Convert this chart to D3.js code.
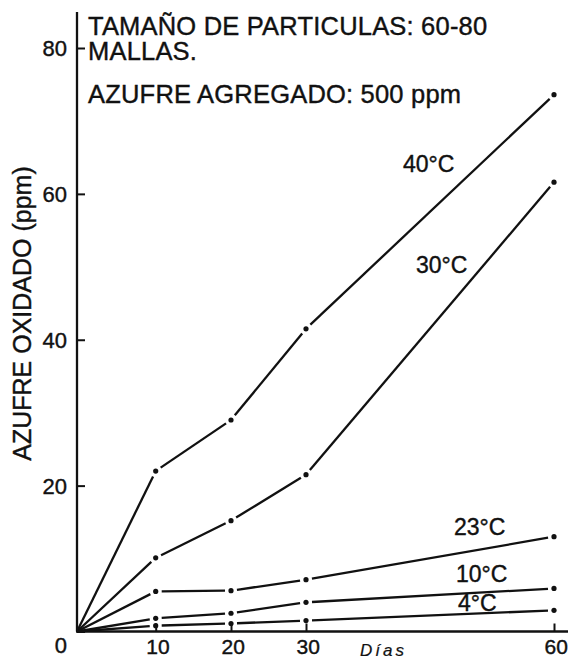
<!DOCTYPE html>
<html>
<head>
<meta charset="utf-8">
<script src="https://cdn.jsdelivr.net/npm/d3@7"></script>
<style>
  html, body { margin: 0; padding: 0; background: #fff; }
  svg { display: block; }
  text { font-family: "Liberation Sans", Arial, Helvetica, sans-serif; fill: #111; stroke: #111; stroke-width: 0.4px; }
</style>
</head>
<body>
<svg id="chart" width="570" height="660"></svg>
<script>
// Days of incubation and oxidised sulphur (ppm) at each temperature
const days = [0, 10, 20, 30, 60];
const dayTicks = [10, 20, 30, 60];
const ppmTicks = [0, 20, 40, 60, 80];
const temps = ["40°C", "30°C", "23°C", "10°C", "4°C"];
const s40 = [0, 22, 29, 41.5, 73.6];
const s30 = [0, 10.1, 15.2, 21.5, 61.6];
const s23 = [0, 5.5, 5.6, 7.1, 13.0];
const s10 = [0, 1.8, 2.5, 4.0, 5.9];
const s4  = [0, 0.8, 1.1, 1.5, 2.9];
const notes = ["TAMAÑO DE PARTICULAS: 60-80", "MALLAS.", "AZUFRE AGREGADO: 500 ppm"];

const series = [s40, s30, s23, s10, s4];

const svg = d3.select("#chart");
const ink = "#111";

// The day axis is drawn with uneven spacing, so the scale is piecewise
const x = d3.scaleLinear().domain([0, 10, 20, 30, 60]).range([77, 155.7, 231, 306, 554]);
const y = d3.scaleLinear().domain([0, 80]).range([631.5, 48]);

// Axis lines
svg.append("line").attr("x1", x(0)).attr("x2", x(0)).attr("y1", 12).attr("y2", y(0))
  .attr("stroke", ink).attr("stroke-width", 2.3);
svg.append("line").attr("x1", x(0) - 1).attr("x2", 568).attr("y1", y(0)).attr("y2", y(0))
  .attr("stroke", ink).attr("stroke-width", 2.5);

// Y axis: ticks point inward, labels to the left
const yAxis = svg.append("g").attr("transform", `translate(${x(0)},0)`)
  .call(d3.axisLeft(y).tickValues(ppmTicks).tickSize(-8).tickPadding(10).tickFormat(d3.format("d")));
yAxis.select(".domain").remove();
yAxis.selectAll(".tick line").attr("stroke", ink).attr("stroke-width", 2);
yAxis.selectAll(".tick text")
  .style("font-size", "22px").attr("fill", ink)
  .attr("dy", d => d === 0 ? "0.95em" : "0.36em");

// X axis: ticks point upward, labels below
const xAxis = svg.append("g").attr("transform", `translate(0,${y(0)})`)
  .call(d3.axisBottom(x).tickValues(dayTicks).tickSize(-8).tickPadding(8).tickFormat(d3.format("d")));
xAxis.select(".domain").remove();
xAxis.selectAll(".tick line").attr("stroke", ink).attr("stroke-width", 2);
xAxis.selectAll(".tick text").style("font-size", "21px").attr("fill", ink).attr("dx", "0.08em");

// Axis titles
svg.append("text")
  .attr("transform", "translate(31,313.5) rotate(-90)")
  .attr("text-anchor", "middle")
  .style("font-size", "25px")
  .text("AZUFRE OXIDADO (ppm)");

svg.append("text")
  .attr("x", 360).attr("y", 655.5)
  .style("font-size", "17px").style("font-style", "italic").style("letter-spacing", "3px")
  .style("stroke-width", "0.2px")
  .text("Días");

// Notes block in the upper left
const noteY = [34.5, 60, 103];
svg.append("g").selectAll("text").data(notes).join("text")
  .attr("x", 88).attr("y", (d, i) => noteY[i])
  .style("font-size", "25.5px").style("letter-spacing", "0.2px")
  .text(d => d);

// Curves: each leg stops short of the data dot, leaving a small gap
const gap = 6;
const curves = svg.append("g");
series.forEach(vals => {
  const pts = days.map((d, i) => [x(d), y(vals[i])]);
  for (let i = 0; i < pts.length - 1; i++) {
    const [x0, y0] = pts[i], [x1, y1] = pts[i + 1];
    const len = Math.hypot(x1 - x0, y1 - y0);
    const ux = (x1 - x0) / len, uy = (y1 - y0) / len;
    const g0 = i === 0 ? 0 : gap;
    curves.append("line")
      .attr("x1", x0 + ux * g0).attr("y1", y0 + uy * g0)
      .attr("x2", x1 - ux * gap).attr("y2", y1 - uy * gap)
      .attr("stroke", ink).attr("stroke-width", 2.3);
  }
  curves.selectAll(null).data(days.slice(1).map((d, i) => [d, vals[i + 1]])).join("circle")
    .attr("cx", d => x(d[0])).attr("cy", d => y(d[1])).attr("r", 2.6)
    .attr("fill", ink);
});

// Temperature labels beside each curve
const labelAt = [[403, 172], [416, 273], [454, 535], [456, 582], [458, 611]];
svg.append("g").selectAll("text").data(temps).join("text")
  .attr("x", (d, i) => labelAt[i][0]).attr("y", (d, i) => labelAt[i][1])
  .style("font-size", "23px")
  .text(d => d);
</script>
</body>
</html>
